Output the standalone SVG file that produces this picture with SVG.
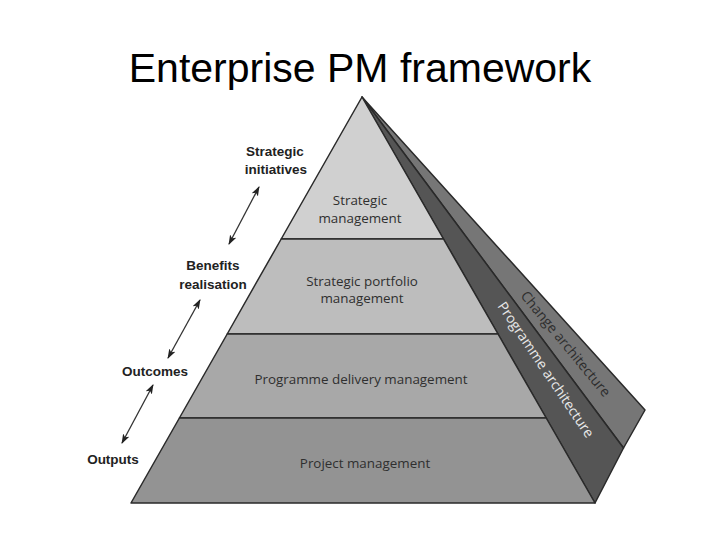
<svg xmlns="http://www.w3.org/2000/svg" width="720" height="540" viewBox="0 0 720 540">
  <style>
    .title { font-family: "Liberation Sans", Arial, sans-serif; font-size: 41px; fill: #000; }
    .edge { stroke: #2a2a2a; stroke-width: 1.5; stroke-linejoin: round; }
    .lbl { font-family: "Liberation Sans", Arial, sans-serif; font-size: 13.5px; font-weight: bold; fill: #222; text-anchor: middle; }
    .lay { font-family: "Open Sans", "Liberation Sans", sans-serif; font-size: 13.4px; fill: #2f2f2f; text-anchor: middle; }
    .side { font-family: "Open Sans", "Liberation Sans", sans-serif; font-size: 14px; }
    .conn { stroke: #333; stroke-width: 1.3; fill: none; marker-start: url(#ah); marker-end: url(#ah); }
  </style>
  <defs>
    <marker id="ah" viewBox="0 0 10 10" refX="9" refY="5" markerWidth="10" markerHeight="10" orient="auto-start-reverse" markerUnits="userSpaceOnUse">
      <path d="M0,1.5 L10,5 L0,8.5 L2.5,5 Z" fill="#222"/>
    </marker>
  </defs>

  <text class="title" x="360" y="82" text-anchor="middle">Enterprise PM framework</text>

  <g id="change-architecture">
    <polygon class="edge" points="362,97 623.5,448 645,410" fill="#767676"/>
    <text class="side" fill="#2e2e2e" transform="translate(520,296) rotate(50.5)">Change architecture</text>
  </g>
  <g id="programme-architecture">
    <polygon class="edge" points="362,97 595,503 623.5,448" fill="#555555"/>
    <text class="side" fill="#e8e8e8" transform="translate(497,306) rotate(56)">Programme architecture</text>
  </g>

  <g id="strategic-management">
    <polygon class="edge" points="362,97 443.5,239 281.2,239" fill="#d0d0d0"/>
    <text class="lay" x="360" y="205">Strategic</text>
    <text class="lay" x="360" y="223">management</text>
  </g>
  <g id="strategic-portfolio-management">
    <polygon class="edge" points="281.2,239 443.5,239 498,334 227.2,334" fill="#bdbdbd"/>
    <text class="lay" x="362" y="286">Strategic portfolio</text>
    <text class="lay" x="362" y="303">management</text>
  </g>
  <g id="programme-delivery-management">
    <polygon class="edge" points="227.2,334 498,334 546.2,418 179.4,418" fill="#a8a8a8"/>
    <text class="lay" x="361" y="384">Programme delivery management</text>
  </g>
  <g id="project-management">
    <polygon class="edge" points="179.4,418 546.2,418 595,503 131,503" fill="#939393"/>
    <text class="lay" x="365" y="468">Project management</text>
  </g>

  <g id="label-strategic-initiatives">
    <text class="lbl" x="275" y="156">Strategic</text>
    <text class="lbl" x="276" y="174">initiatives</text>
  </g>
  <g id="label-benefits-realisation">
    <text class="lbl" x="213" y="270">Benefits</text>
    <text class="lbl" x="213" y="289">realisation</text>
  </g>
  <g id="label-outcomes">
    <text class="lbl" x="155" y="376">Outcomes</text>
  </g>
  <g id="label-outputs">
    <text class="lbl" x="113" y="464">Outputs</text>
  </g>

  <g id="connectors">
    <line class="conn" x1="229" y1="244" x2="259" y2="187"/>
    <line class="conn" x1="168" y1="358" x2="200" y2="300"/>
    <line class="conn" x1="122" y1="443" x2="153" y2="385"/>
  </g>
</svg>
